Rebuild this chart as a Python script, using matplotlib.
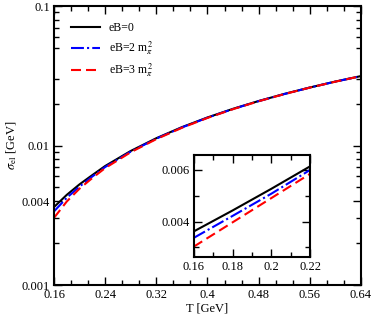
import matplotlib
matplotlib.use('Agg')

import numpy as np
import matplotlib.pyplot as plt
from matplotlib.ticker import FixedLocator, FixedFormatter, LogLocator, AutoMinorLocator, NullFormatter

plt.rcParams['font.family'] = ['Liberation Serif', 'DejaVu Serif']
plt.rcParams['mathtext.fontset'] = 'stix'

# temperature grid [GeV]
T = [0.16, 0.18, 0.20, 0.22, 0.24, 0.28, 0.32, 0.36, 0.40, 0.44, 0.48, 0.52, 0.56, 0.60, 0.64]
# sigma_el [GeV]
sig_eB0 = [0.00362, 0.00443, 0.00527, 0.00614, 0.00713, 0.00914, 0.01128, 0.01354, 0.01589,
           0.01833, 0.02084, 0.02342, 0.02605, 0.02874, 0.03146]
sig_eB2 = [0.00337, 0.00422, 0.00508, 0.00600, 0.00701, 0.00904, 0.01120, 0.01347, 0.01583,
           0.01828, 0.02080, 0.02337, 0.02602, 0.02871, 0.03143]
sig_eB3 = [0.00303, 0.00397, 0.00491, 0.00585, 0.00689, 0.00895, 0.01111, 0.01339, 0.01576,
           0.01822, 0.02076, 0.02335, 0.02600, 0.02868, 0.03143]
labels = ['eB=0', r'eB=2 m$_{\pi}^{\,2}$', r'eB=3 m$_{\pi}^{\,2}$']

yticks = [0.001, 0.004, 0.01, 0.1]
yticklabels = ['0.001', '0.004', '0.01', '0.1']
xticks = [0.16, 0.24, 0.32, 0.4, 0.48, 0.56, 0.64]
xticklabels = ['0.16', '0.24', '0.32', '0.4', '0.48', '0.56', '0.64']
in_xticks = [0.16, 0.18, 0.2, 0.22]
in_xticklabels = ['0.16', '0.18', '0.2', '0.22']
in_yticks = [0.004, 0.006]
in_yticklabels = ['0.004', '0.006']

lw = 1.5
styles = [dict(color='black', linestyle='-'),
          dict(color='#0000ff', linestyle=(0, (6.2, 1.5, 1.0, 1.5))),
          dict(color='#ff0000', linestyle=(0, (4.8, 2.4)))]
series = [sig_eB0, sig_eB2, sig_eB3]


def style_axes(ax):
    for s in ax.spines.values():
        s.set_linewidth(1.5)
    ax.tick_params(which='both', direction='in', top=True, right=True, labelsize=9, pad=3)
    ax.tick_params(which='major', length=6, width=1)
    ax.tick_params(which='minor', length=3.5, width=1)


fig = plt.figure(figsize=(3.74, 3.16), dpi=100)
ax = fig.add_axes([0.1444, 0.0981, 0.8208, 0.8829])
for y, lab, st in zip(series, labels, styles):
    ax.plot(T, y, lw=lw, label=lab, **st)
ax.set_yscale('log')
ax.set_xlim(0.16, 0.64)
ax.set_ylim(0.001, 0.1)
ax.yaxis.set_major_locator(FixedLocator(yticks))
ax.yaxis.set_major_formatter(FixedFormatter(yticklabels))
ax.yaxis.set_minor_locator(LogLocator(base=10, subs=[2, 3, 5, 6, 7, 8, 9]))
ax.yaxis.set_minor_formatter(NullFormatter())
ax.set_xticks(xticks)
ax.set_xticklabels(xticklabels)
ax.xaxis.set_minor_locator(AutoMinorLocator(3))
style_axes(ax)
ax.set_xlabel('T [GeV]', fontsize=9, labelpad=1)
ax.set_ylabel(r'$\sigma_{\rm el}$ [GeV]', fontsize=9, labelpad=2)
ax.legend(loc='upper left', bbox_to_anchor=(0.02, 0.98), frameon=False, fontsize=8.5,
          handlelength=2.5, handletextpad=0.7, labelspacing=0.45)

ins = fig.add_axes([0.518, 0.1867, 0.311, 0.3228])
for y, st in zip(series, styles):
    ins.plot(T, y, lw=lw, **st)
ins.set_xlim(0.16, 0.22)
ins.set_ylim(0.00263, 0.00658)
ins.set_xticks(in_xticks)
ins.set_xticklabels(in_xticklabels)
ins.set_yticks(in_yticks)
ins.set_yticklabels(in_yticklabels)
ins.xaxis.set_minor_locator(AutoMinorLocator(2))
ins.yaxis.set_minor_locator(AutoMinorLocator(2))
style_axes(ins)

fig.savefig('out.png', dpi=100)
